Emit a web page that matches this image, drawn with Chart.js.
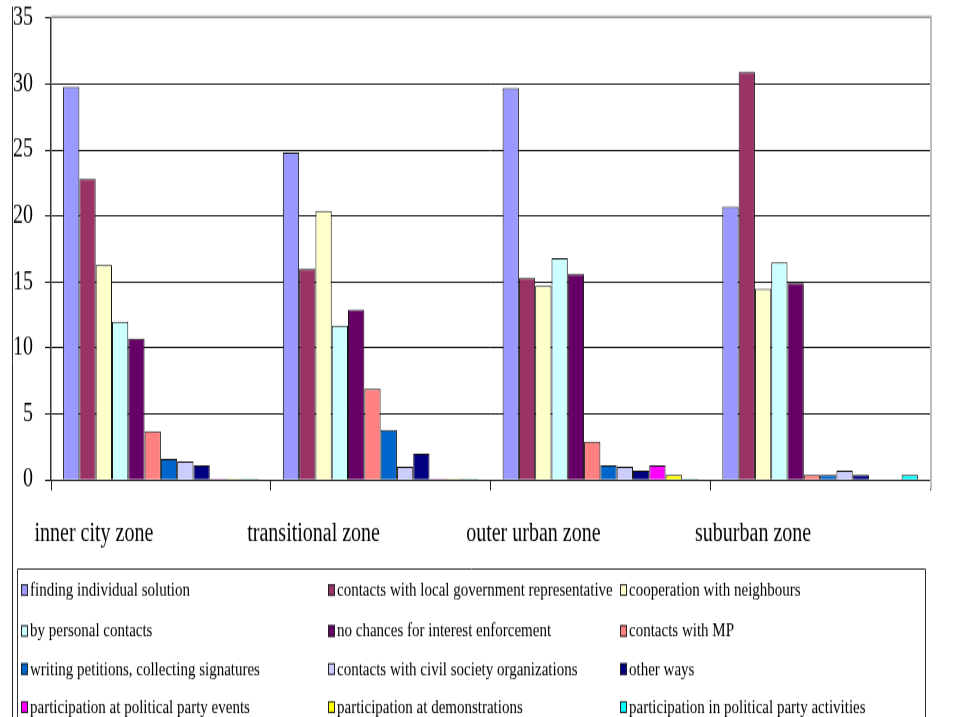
<!DOCTYPE html>
<html>
<head>
<meta charset="utf-8">
<script src="https://cdn.jsdelivr.net/npm/chart.js@4.4.1/dist/chart.umd.min.js"></script>
<style>
  html, body { margin: 0; padding: 0; background: #fff; }
  #chart { display: block; width: 961px; height: 717px; }
</style>
</head>
<body>
<!-- drawn on a 961x550 canvas, shown stretched to 961x717 -->
<canvas id="chart" width="961" height="550" style="width:961px;height:717px"></canvas>
<script>
const zones = ['inner city zone', 'transitional zone', 'outer urban zone', 'suburban zone'];

const individualSolution   = [29.8, 24.8, 29.7, 20.7];
const localGovContacts     = [22.8, 16.0, 15.3, 30.9];
const neighbourCooperation = [16.3, 20.4, 14.7, 14.5];
const personalContacts     = [12.0, 11.7, 16.8, 16.5];
const noChances            = [10.7, 12.9, 15.6, 14.9];
const mpContacts           = [3.7, 6.9, 2.9, 0.4];
const petitions            = [1.6, 3.8, 1.1, 0.4];
const civilSociety         = [1.4, 1.0, 1.0, 0.7];
const otherWays            = [1.1, 2.0, 0.7, 0.4];
const partyEvents          = [0.1, 0.1, 1.1, 0];
const demonstrations       = [0.1, 0.1, 0.4, 0];
const partyActivities      = [0.1, 0.1, 0.1, 0.4];

const yTicks = [0, 5, 10, 15, 20, 25, 30, 35];

const series = [
  ['finding individual solution', individualSolution, '#9999FF'],
  ['contacts with local government representative', localGovContacts, '#993366'],
  ['cooperation with neighbours', neighbourCooperation, '#FFFFCC'],
  ['by personal contacts', personalContacts, '#CCFFFF'],
  ['no chances for interest enforcement', noChances, '#660066'],
  ['contacts with MP', mpContacts, '#FF8080'],
  ['writing petitions, collecting signatures', petitions, '#0066CC'],
  ['contacts with civil society organizations', civilSociety, '#CCCCFF'],
  ['other ways', otherWays, '#000080'],
  ['participation at political party events', partyEvents, '#FF00FF'],
  ['participation at demonstrations', demonstrations, '#FFFF00'],
  ['participation in political party activities', partyActivities, '#00FFFF']
];

const SERIF = "'Liberation Serif', 'Times New Roman', serif";

// frame lines, plot border and the boxed three-column legend
const framePlugin = {
  id: 'frame',
  afterDraw(chart) {
    const ctx = chart.ctx;
    const a = chart.chartArea;
    ctx.save();
    // outer frame edge on the left
    ctx.strokeStyle = '#222';
    ctx.lineWidth = 1;
    ctx.beginPath();
    ctx.moveTo(12.5, 5);
    ctx.lineTo(12.5, chart.height);
    ctx.stroke();
    // light plot border on top and right
    ctx.strokeStyle = '#bdbdbd';
    ctx.lineWidth = 2;
    ctx.beginPath();
    ctx.moveTo(a.left, a.top - 1);
    ctx.lineTo(a.right + 1, a.top - 1);
    ctx.lineTo(a.right + 1, a.bottom + 7);
    ctx.stroke();

    // legend box
    const boxTop = 436.5, boxLeft = 17.5, boxRight = 925.5;
    ctx.strokeStyle = '#333';
    ctx.lineWidth = 1;
    ctx.beginPath();
    ctx.moveTo(boxLeft, chart.height + 2);
    ctx.lineTo(boxLeft, boxTop);
    ctx.lineTo(boxRight, boxTop);
    ctx.lineTo(boxRight, chart.height + 2);
    ctx.stroke();

    const colX = [21, 328, 620];
    const rowY = [452.6, 484.0, 513.2, 542.4];
    ctx.font = '15px ' + SERIF;
    ctx.textBaseline = 'middle';
    ctx.textAlign = 'left';
    chart.data.datasets.forEach((ds, i) => {
      const x = colX[i % 3];
      const y = rowY[Math.floor(i / 3)];
      ctx.fillStyle = ds.backgroundColor;
      ctx.fillRect(x, y - 4.5, 7, 9);
      ctx.strokeStyle = '#222';
      ctx.lineWidth = 1;
      ctx.strokeRect(x + 0.5, y - 4, 6, 8);
      ctx.fillStyle = '#000';
      ctx.fillText(ds.label, x + 9, y + 0.5);
    });
    ctx.restore();
  }
};

new Chart(document.getElementById('chart'), {
  type: 'bar',
  data: {
    labels: zones,
    datasets: series.map(([label, values, color]) => ({
      label,
      data: values,
      backgroundColor: color,
      borderColor: '#111',
      borderWidth: 1,
      categoryPercentage: 0.89,
      barPercentage: 1.0
    }))
  },
  options: {
    responsive: false,
    animation: false,
    devicePixelRatio: 1,
    layout: { padding: { left: 0, right: 31, top: 13.8, bottom: 121.8 } },
    plugins: {
      legend: { display: false },
      tooltip: { enabled: false },
      title: { display: false }
    },
    scales: {
      x: {
        offset: true,
        grid: {
          offset: true,
          drawOnChartArea: false,
          drawTicks: true,
          tickLength: 8,
          color: '#222'
        },
        border: { display: true, color: '#222', width: 1 },
        ticks: {
          color: '#000',
          font: { family: SERIF, size: 20 },
          padding: 22,
          labelOffset: -67,
          maxRotation: 0,
          autoSkip: false
        },
        afterFit(scale) { scale.height = 60; }
      },
      y: {
        min: 0,
        max: 35,
        afterBuildTicks(scale) { scale.ticks = yTicks.map(v => ({ value: v })); },
        grid: { color: '#111', lineWidth: 1, tickLength: 6, drawTicks: true },
        border: { display: true, color: '#333', width: 1.5 },
        ticks: {
          color: '#000',
          font: { family: SERIF, size: 20 },
          padding: 12
        },
        afterFit(scale) {
          scale.width = 51;
          scale.paddingTop = 0;
          scale.paddingBottom = 0;
        }
      }
    }
  },
  plugins: [framePlugin]
});
</script>
</body>
</html>
